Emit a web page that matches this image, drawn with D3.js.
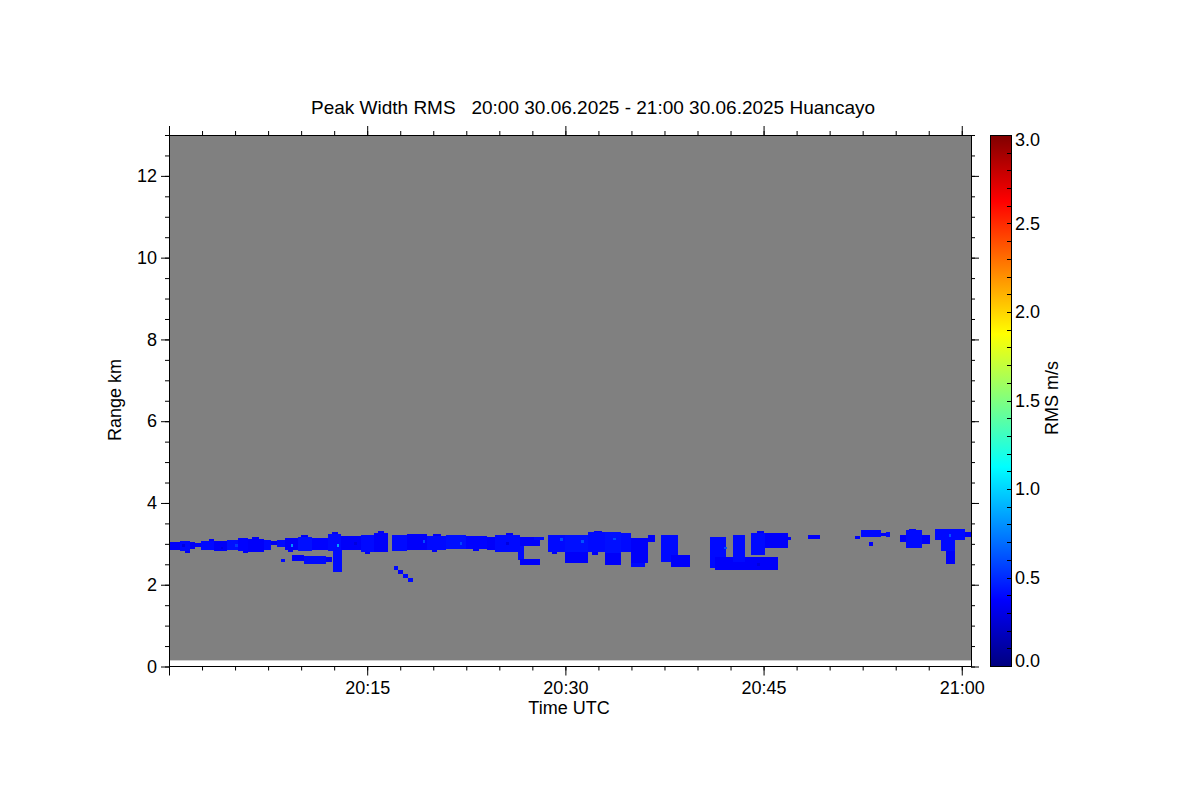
<!DOCTYPE html>
<html><head><meta charset="utf-8">
<script src="https://cdn.jsdelivr.net/npm/d3@7"></script>
<style>
body{margin:0;background:#fff}
text{font-family:"Liberation Sans",Arial,Helvetica,sans-serif;fill:#000}
</style>
</head><body>
<svg id="chart" width="1200" height="800"></svg>
<script>
// ---------------- data ----------------
const titleText = "Peak Width RMS   20:00 30.06.2025 - 21:00 30.06.2025 Huancayo";
const xAxisTitle = "Time UTC";
const yAxisTitle = "Range km";
const colorbarTitle = "RMS m/s";
// minutes after 20:00
const timeDomain = [0, 60.7];
const timeMajorTicks = [0, 15, 30, 45, 60];
const timeTickLabels = ["", "20:15", "20:30", "20:45", "21:00"];
const timeMinorStep = 2.5;
const rangeDomain = [0, 13];
const rangeMajorTicks = [0, 2, 4, 6, 8, 10, 12];
const rangeMinorStep = 0.5;
const firstGateKm = 0.15;
const rmsDomain = [0, 3];
const rmsTicks = [0, 0.5, 1, 1.5, 2, 2.5, 3];
const rmsTickLabels = ["0.0", "0.5", "1.0", "1.5", "2.0", "2.5", "3.0"];
const rmsMinorStep = 0.1;
// jet colour table stops
const jetValues = [0, 0.375, 1.125, 1.875, 2.625, 3];
const jetColors = ["#000080", "#0000ff", "#00ffff", "#ffff00", "#ff0000", "#800000"];

// echo regions: [startMin, endMin, bottomKm, topKm, rms m/s]
const echoCells = [
  [0.0,0.8,2.85,3.05,0.36],[0.8,1.6,2.83,3.07,0.4],[1.6,2.0,2.88,3.05,0.34],
  [2.0,2.4,2.93,3.02,0.36],[2.4,3.4,2.86,3.08,0.4],[3.4,4.4,2.83,3.07,0.35],
  [4.4,5.2,2.85,3.10,0.42],[5.2,6.0,2.83,3.15,0.38],[6.0,7.2,2.81,3.12,0.36],
  [7.2,7.7,2.85,3.10,0.4],[7.7,8.2,2.98,3.07,0.34],[8.2,8.8,2.93,3.10,0.4],
  [8.8,9.8,2.86,3.15,0.36],[9.8,10.8,2.83,3.17,0.42],[10.8,12.0,2.85,3.15,0.38],
  [12.0,13.0,2.83,3.24,0.4],[13.0,14.5,2.85,3.20,0.36],[14.5,15.5,2.80,3.22,0.4],
  [15.5,16.6,2.80,3.27,0.36],[16.9,18.0,2.83,3.22,0.4],[18.0,19.5,2.85,3.24,0.36],
  [19.5,21.0,2.86,3.20,0.4],[21.0,22.5,2.88,3.22,0.42],[22.5,24.1,2.88,3.20,0.38],
  [24.1,24.7,2.85,3.17,0.36],[24.7,26.55,2.80,3.22,0.4],[26.55,28.1,2.95,3.17,0.36],
  [26.4,26.9,2.61,2.95,0.4],[26.6,28.1,2.49,2.64,0.36],[27.6,28.4,3.10,3.17,0.4],
  [28.7,30.0,2.80,3.22,0.4],[30.0,31.7,2.78,3.22,0.42],[30.0,31.7,2.54,2.80,0.36],
  [31.7,33.0,2.80,3.29,0.4],[33.0,34.2,2.78,3.29,0.42],[33.0,34.2,2.49,2.78,0.36],
  [34.2,34.96,2.80,3.27,0.4],[34.96,36.25,2.54,3.15,0.36],[35.0,36.0,2.44,2.54,0.4],
  [36.25,36.8,3.05,3.22,0.36],[37.23,38.52,2.56,3.22,0.4],[38.0,39.43,2.44,2.73,0.36],
  [40.95,42.16,2.41,3.17,0.4],[41.3,46.1,2.37,2.68,0.36],[42.7,43.6,2.56,3.22,0.4],
  [44.05,45.1,2.73,3.27,0.4],[45.1,46.86,2.90,3.27,0.36],[46.86,47.1,3.10,3.17,0.34],
  [48.37,49.28,3.12,3.22,0.36],[51.93,52.3,3.12,3.20,0.36],[52.4,53.9,3.17,3.34,0.4],
  [53.9,54.3,3.20,3.27,0.36],[54.3,54.6,3.17,3.29,0.4],[53.0,53.3,2.95,3.05,0.36],
  [55.34,55.8,3.05,3.22,0.36],[55.8,57.0,2.90,3.34,0.4],[57.0,57.61,3.00,3.22,0.36],
  [58.0,60.27,3.10,3.37,0.4],[60.27,60.7,3.17,3.29,0.36],[58.45,59.51,2.83,3.15,0.4],
  [58.8,59.51,2.51,2.83,0.36],
  // lower echoes
  [8.5,8.75,2.56,2.63,0.4],[9.3,10.2,2.58,2.73,0.36],[10.2,11.9,2.51,2.70,0.4],
  [11.9,12.3,2.56,2.68,0.36],[12.4,13.1,2.32,2.85,0.4],
  [17.0,17.3,2.37,2.46,0.4],[17.3,17.7,2.27,2.37,0.36],[17.7,18.1,2.17,2.27,0.4],
  [18.1,18.5,2.07,2.17,0.4],
  // ragged edges of the main layer
  [3.0,3.4,3.08,3.12,0.35],[6.3,6.8,3.12,3.17,0.35],[10.0,10.5,3.17,3.22,0.35],
  [12.3,12.8,3.24,3.29,0.35],[15.8,16.3,3.27,3.31,0.35],[20.0,20.6,3.20,3.25,0.35],
  [25.5,26.0,3.22,3.26,0.35],[32.2,32.8,3.29,3.32,0.35],[44.5,45.0,3.27,3.31,0.35],
  [56.0,56.5,3.34,3.37,0.35],
  [1.2,1.6,2.78,2.83,0.35],[5.6,6.0,2.78,2.83,0.35],[9.0,9.4,2.80,2.86,0.35],
  [14.8,15.2,2.75,2.80,0.35],[19.9,20.3,2.80,2.86,0.35],[23.0,23.5,2.83,2.88,0.35],
  [29.0,29.4,2.74,2.80,0.35],[32.0,32.5,2.73,2.80,0.35]
];
// small speckles inside echoes: [minute, km, rms]
const speckles = [
  [12.7,2.97,0.85],[9.2,2.95,0.8],[19.2,3.05,0.6],[29.6,3.10,0.6],[31.2,3.05,0.62],
  [33.6,3.12,0.6],[42.0,2.9,0.6],[59.0,3.2,0.62],[22.0,3.0,0.58],[5.0,2.95,0.55],
  [1.0,2.97,0.28],[3.9,2.9,0.28],[14.0,3.0,0.28],[25.5,3.0,0.28],[44.5,2.5,0.28]
];
const speckleW = 0.2, speckleH = 0.07;

// ---------------- layout ----------------
const svg = d3.select("#chart");
const plot = {left:169, right:971, top:135, bottom:666.5};
const cbar = {left:990, right:1011, top:135, bottom:666};

const x = d3.scaleLinear().domain(timeDomain).range([plot.left, plot.right]);
const y = d3.scaleLinear().domain(rangeDomain).range([plot.bottom, plot.top]);
const color = d3.scaleLinear().domain(jetValues).range(jetColors).clamp(true);
const cy = d3.scaleLinear().domain(rmsDomain).range([cbar.bottom, cbar.top]);

// title
svg.append("text").attr("x", 593).attr("y", 114).attr("text-anchor","middle")
  .style("white-space","pre").attr("font-size",19).text(titleText);

// background (no-data gray)
svg.append("rect").attr("x", x(timeDomain[0])).attr("y", y(rangeDomain[1]))
  .attr("width", x(timeDomain[1]) - x(timeDomain[0]))
  .attr("height", y(firstGateKm) - y(rangeDomain[1])).attr("fill","#808080");

const g = svg.append("g").attr("shape-rendering","crispEdges");
g.selectAll("rect.echo").data(echoCells).join("rect").attr("class","echo")
  .attr("x", d => x(d[0])).attr("y", d => y(d[3]))
  .attr("width", d => x(d[1]) - x(d[0])).attr("height", d => y(d[2]) - y(d[3]))
  .attr("fill", d => color(d[4]));
g.selectAll("rect.sp").data(speckles).join("rect").attr("class","sp")
  .attr("x", d => x(d[0])).attr("y", d => y(d[1] + speckleH/2))
  .attr("width", x(speckleW) - x(0)).attr("height", y(0) - y(speckleH))
  .attr("fill", d => color(d[2]));

// axes
const minorT = d3.range(0, timeDomain[1], timeMinorStep);
const minorR = d3.range(0, rangeDomain[1] + 0.001, rangeMinorStep);
function style(sel){ sel.select(".domain").remove(); sel.selectAll("line").attr("stroke","#000");
  sel.selectAll("text").attr("font-size",18).attr("font-family","Liberation Sans, Arial, sans-serif"); }

svg.append("g").attr("transform",`translate(0,${plot.bottom})`)
  .call(d3.axisBottom(x).tickValues(minorT).tickSize(4).tickFormat("")).call(style);
svg.append("g").attr("transform",`translate(0,${plot.bottom})`)
  .call(d3.axisBottom(x).tickValues(timeMajorTicks).tickSize(9).tickPadding(6)
    .tickFormat((d,i)=>timeTickLabels[i])).call(style);
svg.append("g").attr("transform",`translate(0,${plot.top})`)
  .call(d3.axisTop(x).tickValues(minorT).tickSize(4).tickFormat("")).call(style);
svg.append("g").attr("transform",`translate(0,${plot.top})`)
  .call(d3.axisTop(x).tickValues(timeMajorTicks).tickSize(9).tickFormat("")).call(style);

svg.append("g").attr("transform",`translate(${plot.left},0)`)
  .call(d3.axisLeft(y).tickValues(minorR).tickSize(4).tickFormat("")).call(style);
svg.append("g").attr("transform",`translate(${plot.left},0)`)
  .call(d3.axisLeft(y).tickValues(rangeMajorTicks).tickSize(8).tickPadding(4)
    .tickFormat(d3.format("d"))).call(style);
svg.append("g").attr("transform",`translate(${plot.right},0)`)
  .call(d3.axisRight(y).tickValues(minorR).tickSize(4).tickFormat("")).call(style);
svg.append("g").attr("transform",`translate(${plot.right},0)`)
  .call(d3.axisRight(y).tickValues(rangeMajorTicks).tickSize(8).tickFormat("")).call(style);

// frame
svg.append("rect").attr("x",plot.left).attr("y",plot.top)
  .attr("width",plot.right-plot.left).attr("height",plot.bottom-plot.top)
  .attr("fill","none").attr("stroke","#000").attr("shape-rendering","crispEdges");

// axis titles
svg.append("text").attr("x", 569).attr("y", 714).attr("text-anchor","middle")
  .attr("font-size",18).text(xAxisTitle);
svg.append("text").attr("transform","translate(121,400) rotate(-90)").attr("text-anchor","middle")
  .attr("font-size",18).text(yAxisTitle);

// colorbar
const defs = svg.append("defs");
const grad = defs.append("linearGradient").attr("id","jet")
  .attr("x1","0").attr("y1","1").attr("x2","0").attr("y2","0");
grad.selectAll("stop").data(jetValues).join("stop")
  .attr("offset", d => d / rmsDomain[1]).attr("stop-color", (d,i) => jetColors[i]);
svg.append("rect").attr("x",cbar.left).attr("y",cbar.top)
  .attr("width",cbar.right-cbar.left).attr("height",cbar.bottom-cbar.top)
  .attr("fill","url(#jet)").attr("stroke","#000").attr("shape-rendering","crispEdges");
const cbMinor = d3.range(rmsDomain[0], rmsDomain[1] + 0.001, rmsMinorStep);
svg.append("g").selectAll("line").data(cbMinor).join("line")
  .attr("x1", cbar.right - 4).attr("x2", cbar.right)
  .attr("y1", d => Math.round(cy(d)) + 0.5).attr("y2", d => Math.round(cy(d)) + 0.5)
  .attr("stroke","#000");
svg.append("g").selectAll("text").data(rmsTicks).join("text")
  .attr("x", cbar.right + 4)
  .attr("y", d => Math.min(cbar.bottom - 5, Math.max(cbar.top + 5, cy(d))))
  .attr("dy","0.35em").attr("font-size",18)
  .text((d,i) => rmsTickLabels[i]);
svg.append("text").attr("transform","translate(1058,398) rotate(-90)").attr("text-anchor","middle")
  .attr("font-size",18).text(colorbarTitle);
</script>
</body></html>
